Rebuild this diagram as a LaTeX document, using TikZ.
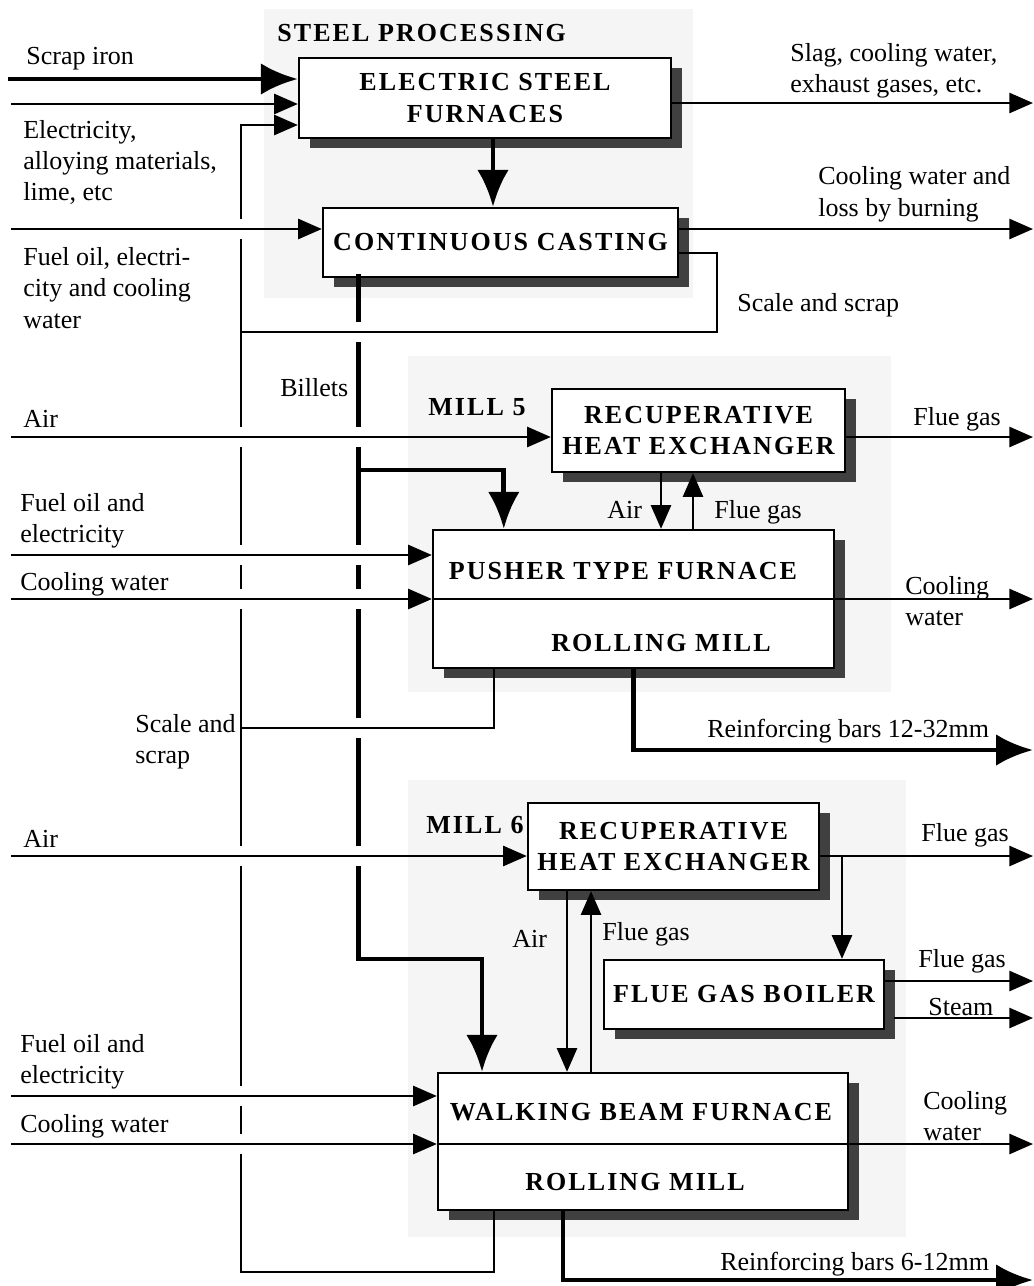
\documentclass[tikz,border=0pt]{standalone}
\usepackage{fontspec}
\setmainfont{Liberation Serif}
\newfontfamily\spacedserif{Liberation Serif}[LetterSpace=8]
\usetikzlibrary{arrows.meta, positioning, calc, shadows}
\definecolor{regiongray}{RGB}{245,245,245}
\definecolor{shadowgray}{RGB}{64,64,64}
\newcommand{\lblfont}{\fontsize{14.8}{17.9}\selectfont}
\newcommand{\titlefont}{\spacedserif\bfseries\fontsize{14.8}{17.9}\selectfont}

\begin{document}
\begin{tikzpicture}[x=0.02cm, y=-0.02cm,
  region/.style={fill=regiongray},
  box/.style={draw, line width=1.4pt, fill=white, align=center, font=\titlefont,
              inner sep=0pt, drop shadow={shadow xshift=0.22cm, shadow yshift=-0.2cm,
              fill=shadowgray, opacity=1}},
  boxtitle/.style={font=\titlefont, inner sep=0pt},
  lbl/.style={font=\lblfont, align=left, inner sep=0pt, anchor=west},
  lbl1/.style={font=\lblfont, inner sep=0pt, anchor=base west},
  flow/.style={line width=1.2pt},
  arr/.style={flow, -{Triangle[length=13.5pt, width=11.5pt]}},
  bulk/.style={line width=2.8pt},
  bigarr/.style={bulk, -{Latex[length=21pt, width=18pt]}}]
\useasboundingbox (0,0) rectangle (1034,1286);
\fill[region] (264,9) rectangle (693,298);
\fill[region] (408,356) rectangle (891,692);
\fill[region] (408,780) rectangle (906,1237);

\node[boxtitle, anchor=base west] (tSteel) at (277,41) {STEEL PROCESSING};
\node[boxtitle, anchor=base west] (tMill5) at (428,415) {MILL 5};
\node[boxtitle, anchor=base west] (tMill6) at (426,833) {MILL 6};

\node[box, minimum width=7.44cm, minimum height=1.6cm] (esf) at (485,98) {ELECTRIC STEEL\\FURNACES};
\node[box, minimum width=7.1cm, minimum height=1.38cm] (cc) at (500.5,242.5) {CONTINUOUS CASTING};
\node[box, minimum width=5.86cm, minimum height=1.66cm] (hx5) at (698.5,430.5) {RECUPERATIVE\\HEAT EXCHANGER};
\node[box, minimum width=8.02cm, minimum height=2.76cm] (push) at (633.5,599) {};
\node[boxtitle] (pushT) at (623,571) {PUSHER TYPE FURNACE};
\node[boxtitle] (pushM) at (661,643) {ROLLING MILL};
\node[box, minimum width=5.82cm, minimum height=1.74cm] (hx6) at (673.5,846.5) {RECUPERATIVE\\HEAT EXCHANGER};
\node[box, minimum width=5.6cm, minimum height=1.38cm] (boil) at (744,994.5) {FLUE GAS BOILER};
\node[box, minimum width=8.2cm, minimum height=2.74cm] (wb) at (643,1141.5) {};
\node[boxtitle] (wbT) at (641,1112) {WALKING BEAM FURNACE};
\node[boxtitle] (wbM) at (635,1182) {ROLLING MILL};

\node[lbl1] (lScrap) at (26,64) {Scrap iron};
\node[lbl] (lElec) at (23,162.5) {Electricity,\\alloying materials,\\lime, etc};
\node[lbl] (lCast) at (23,288) {Fuel oil, electri-\\city and cooling\\water};
\node[lbl] (lSlag) at (790,71) {Slag, cooling water,\\exhaust gases, etc.};
\node[lbl] (lBurn) at (818,194.5) {Cooling water and\\loss by burning};
\node[lbl1] (lScale) at (737,311) {Scale and scrap};
\node[lbl1] (lBillets) at (280,396) {Billets};
\node[lbl1] (lAir5) at (23,427) {Air};
\node[lbl1] (lFlue5) at (913,425) {Flue gas};
\node[lbl1] (lAirD5) at (607,518) {Air};
\node[lbl1] (lFlueU5) at (714,518) {Flue gas};
\node[lbl] (lFuel5) at (20,520.5) {Fuel oil and\\electricity};
\node[lbl1] (lCool5) at (20,590) {Cooling water};
\node[lbl] (lCoolO5) at (905,601) {Cooling\\water};
\node[lbl] (lScale5) at (135,742) {Scale and\\scrap};
\node[lbl1] (lBars5) at (707,737) {Reinforcing bars 12-32mm};
\node[lbl1] (lAir6) at (23,847) {Air};
\node[lbl1] (lFlue6) at (921,841) {Flue gas};
\node[lbl1] (lAirD6) at (512,947) {Air};
\node[lbl1] (lFlueU6) at (602,940) {Flue gas};
\node[lbl1] (lBoil) at (918,967) {Flue gas};
\node[lbl1] (lSteam) at (928,1015) {Steam};
\node[lbl] (lFuel6) at (20,1061.5) {Fuel oil and\\electricity};
\node[lbl1] (lCool6) at (20,1132) {Cooling water};
\node[lbl] (lCoolO6) at (923,1116) {Cooling\\water};
\node[lbl1] (lBars6) at (720,1270) {Reinforcing bars 6-12mm};

\coordinate (iScrap) at (8,79);
\coordinate (iElec) at (11,104);
\coordinate (iCast) at (11,229);
\coordinate (iAir5) at (11,437);
\coordinate (iFuel5) at (11,555);
\coordinate (iCool5) at (11,599);
\coordinate (iAir6) at (11,856);
\coordinate (iFuel6) at (11,1096);
\coordinate (iCool6) at (11,1144);
\coordinate (oSlag) at (1033,103);
\coordinate (oCast) at (1033,229);
\coordinate (oFlue5) at (1033,437);
\coordinate (oCool5) at (1033,599);
\coordinate (oBars5) at (1033,750);
\coordinate (oFlue6) at (1033,856);
\coordinate (oBoil) at (1033,981);
\coordinate (oSteam) at (1033,1018);
\coordinate (oCool6) at (1033,1144);
\coordinate (oBars6) at (1033,1280);
\coordinate (ret) at (241,1272);
\coordinate (sc5) at (241,728);
\coordinate (ccLoop) at (717,332);
\coordinate (bFork) at (360,470);
\coordinate (bTurn) at (482,959);
\coordinate (br6) at (842,856);

\draw[arr] ([xshift=1.14cm]wb.south west) |- (ret) |- ([yshift=-0.54cm]esf.west);
\draw[bigarr] ([xshift=0.74cm,yshift=0.08cm]cc.south west) |- (bTurn) -- (bTurn |- wb.north);
\draw[bigarr] (bFork) -| ([xshift=1.44cm]push.north west);
\foreach \yy in {229,437,555,599,856,1096,1144}
  \fill[white] (237,\yy-10) rectangle (245,\yy+10);
\foreach \yy in {332,437,555,599,728,856}
  \fill[white] (355,\yy-10) rectangle (365,\yy+10);

\draw[bigarr] (iScrap) -- (iScrap -| esf.west);
\draw[arr] (iElec) -- (iElec -| esf.west);
\draw[arr] (iCast) -- (iCast -| cc.west);
\draw[arr] (oSlag -| esf.east) -- (oSlag);
\draw[arr] (oCast -| cc.east) -- (oCast);
\draw[bigarr] ([xshift=0.16cm]esf.south) -- ([xshift=0.16cm]esf.south |- cc.north);
\draw[flow] ([yshift=-0.21cm]cc.east) -| (ccLoop) -- (ccLoop -| ret);

\draw[arr] (iAir5) -- (iAir5 -| hx5.west);
\draw[arr] (oFlue5 -| hx5.east) -- (oFlue5);
\draw[arr] ([xshift=-0.75cm]hx5.south) -- ([xshift=-0.75cm]hx5.south |- push.north);
\draw[arr] ([xshift=-0.11cm]hx5.south |- push.north) -- ([xshift=-0.11cm]hx5.south);
\draw[arr] (iFuel5) -- (iFuel5 -| push.west);
\draw[arr] (iCool5) -- (iCool5 -| push.west);
\draw[arr] (iCool5 -| push.west) -- (oCool5);
\draw[flow] ([xshift=1.24cm]push.south west) |- (sc5);
\draw[bigarr] (push.south) |- (oBars5);

\draw[arr] (iAir6) -- (iAir6 -| hx6.west);
\draw[arr] (oFlue6 -| hx6.east) -- (oFlue6);
\draw[arr] (br6) -- (br6 |- boil.north);
\draw[arr] (oBoil -| boil.east) -- (oBoil);
\draw[arr] ([xshift=0.18cm]oSteam -| boil.east) -- (oSteam);
\draw[arr] ([xshift=-2.13cm]hx6.south) -- ([xshift=-2.13cm]hx6.south |- wb.north);
\draw[arr] ([xshift=-1.65cm]hx6.south |- wb.north) -- ([xshift=-1.65cm]hx6.south);
\draw[arr] (iFuel6) -- (iFuel6 -| wb.west);
\draw[arr] (iCool6) -- (iCool6 -| wb.west);
\draw[arr] (iCool6 -| wb.west) -- (oCool6);
\draw[bigarr] ([xshift=-1.6cm]wb.south) |- (oBars6);
\end{tikzpicture}
\end{document}
